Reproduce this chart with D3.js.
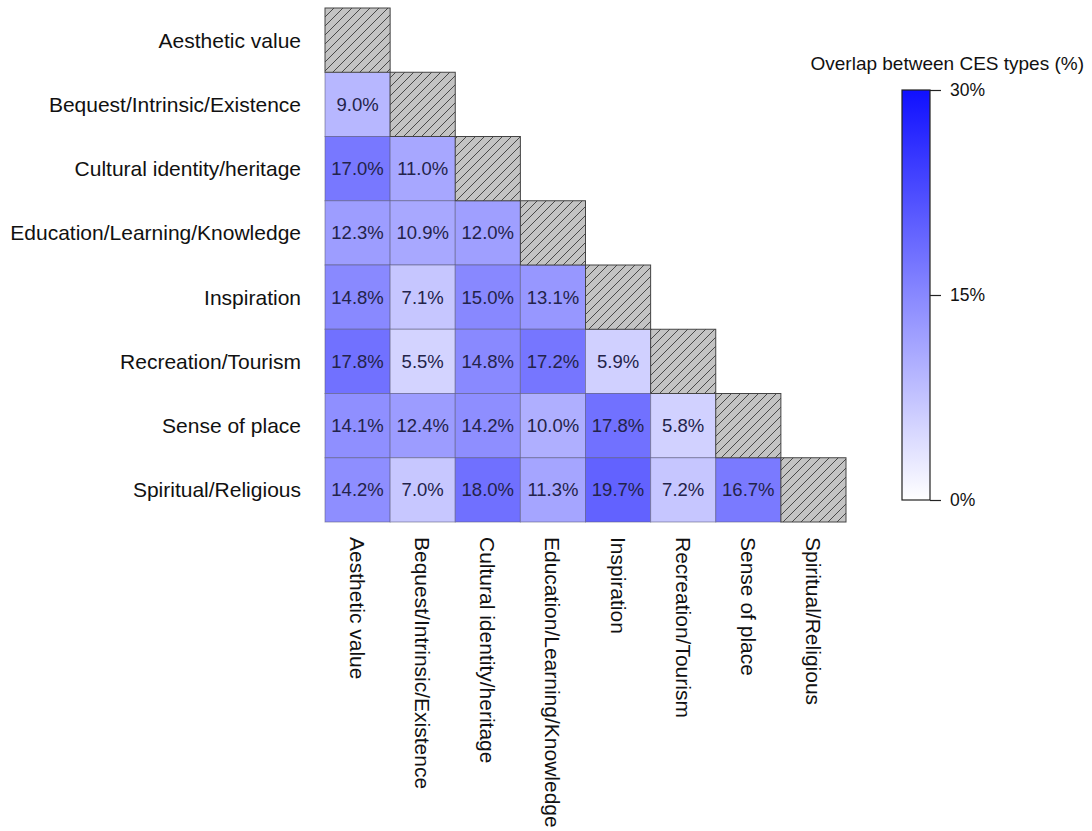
<!DOCTYPE html>
<html>
<head>
<meta charset="utf-8">
<script src="https://cdn.jsdelivr.net/npm/d3@7"></script>
<style>
  html, body { margin: 0; padding: 0; background: #ffffff; }
  svg { display: block; font-family: "Liberation Sans", Arial, sans-serif; }
</style>
</head>
<body>
<svg id="chart" width="1092" height="831"></svg>
<script>
// CES categories (same order on both axes)
const categories = [
  "Aesthetic value",
  "Bequest/Intrinsic/Existence",
  "Cultural identity/heritage",
  "Education/Learning/Knowledge",
  "Inspiration",
  "Recreation/Tourism",
  "Sense of place",
  "Spiritual/Religious"
];

// Lower-triangle overlap values (%), row i holds columns 0..i-1
const overlapRows = [
  [],
  [9.0],
  [17.0, 11.0],
  [12.3, 10.9, 12.0],
  [14.8, 7.1, 15.0, 13.1],
  [17.8, 5.5, 14.8, 17.2, 5.9],
  [14.1, 12.4, 14.2, 10.0, 17.8, 5.8],
  [14.2, 7.0, 18.0, 11.3, 19.7, 7.2, 16.7]
];

const legendTicks = [0, 15, 30];
const legendTitle = "Overlap between CES types (%)";

const svg = d3.select("#chart");

const grid = { left: 325, top: 8, right: 846, bottom: 522 };

const x = d3.scaleBand().domain(categories).range([grid.left, grid.right]).padding(0);
const y = d3.scaleBand().domain(categories).range([grid.top, grid.bottom]).padding(0);
const color = d3.scaleLinear().domain([0, 30]).range(["#ffffff", "#1010ff"]).interpolate(d3.interpolateRgb);

// hatch pattern for the diagonal (self-overlap) cells
const defs = svg.append("defs");
const pat = defs.append("pattern")
  .attr("id", "hatch")
  .attr("patternUnits", "userSpaceOnUse")
  .attr("width", 9).attr("height", 9);
pat.append("rect").attr("width", 9).attr("height", 9).attr("fill", "#c3c3c3");
pat.append("path")
  .attr("d", "M-1,1 l2,-2 M0,9 l9,-9 M8,10 l2,-2")
  .attr("stroke", "#3a3a3a").attr("stroke-width", 0.9);

// flatten matrix to cell records
const cells = [];
overlapRows.forEach((row, i) => {
  row.forEach((v, j) => cells.push({ row: categories[i], col: categories[j], value: v }));
});

const cellG = svg.append("g");
cellG.selectAll("rect.cell")
  .data(cells)
  .join("rect")
  .attr("class", "cell")
  .attr("x", d => x(d.col))
  .attr("y", d => y(d.row))
  .attr("width", x.bandwidth())
  .attr("height", y.bandwidth())
  .attr("fill", d => color(d.value))
  .attr("stroke", "#5a5a7a")
  .attr("stroke-opacity", 0.55)
  .attr("stroke-width", 1);

cellG.selectAll("rect.diag")
  .data(categories)
  .join("rect")
  .attr("class", "diag")
  .attr("x", d => x(d))
  .attr("y", d => y(d))
  .attr("width", x.bandwidth())
  .attr("height", y.bandwidth())
  .attr("fill", "url(#hatch)")
  .attr("stroke", "#444")
  .attr("stroke-width", 1);

cellG.selectAll("text.val")
  .data(cells)
  .join("text")
  .attr("class", "val")
  .attr("x", d => x(d.col) + x.bandwidth() / 2)
  .attr("y", d => y(d.row) + y.bandwidth() / 2)
  .attr("text-anchor", "middle")
  .attr("dominant-baseline", "central")
  .attr("font-size", 18.5)
  .attr("fill", "#23234a")
  .text(d => d.value.toFixed(1) + "%");

// row labels
svg.append("g").selectAll("text")
  .data(categories)
  .join("text")
  .attr("x", 301)
  .attr("y", d => y(d) + y.bandwidth() / 2)
  .attr("text-anchor", "end")
  .attr("dominant-baseline", "central")
  .attr("font-size", 21)
  .attr("fill", "#111")
  .text(d => d);

// column labels, rotated to read downward
svg.append("g").selectAll("text")
  .data(categories)
  .join("text")
  .attr("transform", d => `translate(${x(d) + x.bandwidth() / 2},537) rotate(90)`)
  .attr("text-anchor", "start")
  .attr("dominant-baseline", "central")
  .attr("font-size", 21)
  .attr("fill", "#111")
  .text(d => d);

// colour legend
const lg = { x: 902, y0: 90, y1: 500, w: 28 };
const grad = defs.append("linearGradient")
  .attr("id", "legendGrad")
  .attr("x1", 0).attr("y1", 1).attr("x2", 0).attr("y2", 0);
d3.range(0, 31, 5).forEach(v => {
  grad.append("stop").attr("offset", v / 30).attr("stop-color", color(v));
});
svg.append("rect")
  .attr("x", lg.x).attr("y", lg.y0)
  .attr("width", lg.w).attr("height", lg.y1 - lg.y0)
  .attr("fill", "url(#legendGrad)")
  .attr("stroke", "#222").attr("stroke-width", 1.2);

const ly = d3.scaleLinear().domain([0, 30]).range([lg.y1, lg.y0]);
const legendAxis = svg.append("g")
  .attr("transform", `translate(${lg.x + lg.w},0)`)
  .call(d3.axisRight(ly).tickValues(legendTicks).tickSize(11).tickPadding(9).tickFormat(d => d + "%"));
legendAxis.select(".domain").remove();
legendAxis.selectAll(".tick line").attr("stroke", "#222").attr("stroke-width", 1.2);
legendAxis.selectAll(".tick text")
  .attr("font-family", "Liberation Sans, Arial, sans-serif")
  .attr("font-size", 17.5)
  .attr("fill", "#111");

svg.append("text")
  .attr("x", 1084)
  .attr("y", 63)
  .attr("text-anchor", "end")
  .attr("dominant-baseline", "central")
  .attr("font-size", 19)
  .attr("fill", "#111")
  .text(legendTitle);
</script>
</body>
</html>
